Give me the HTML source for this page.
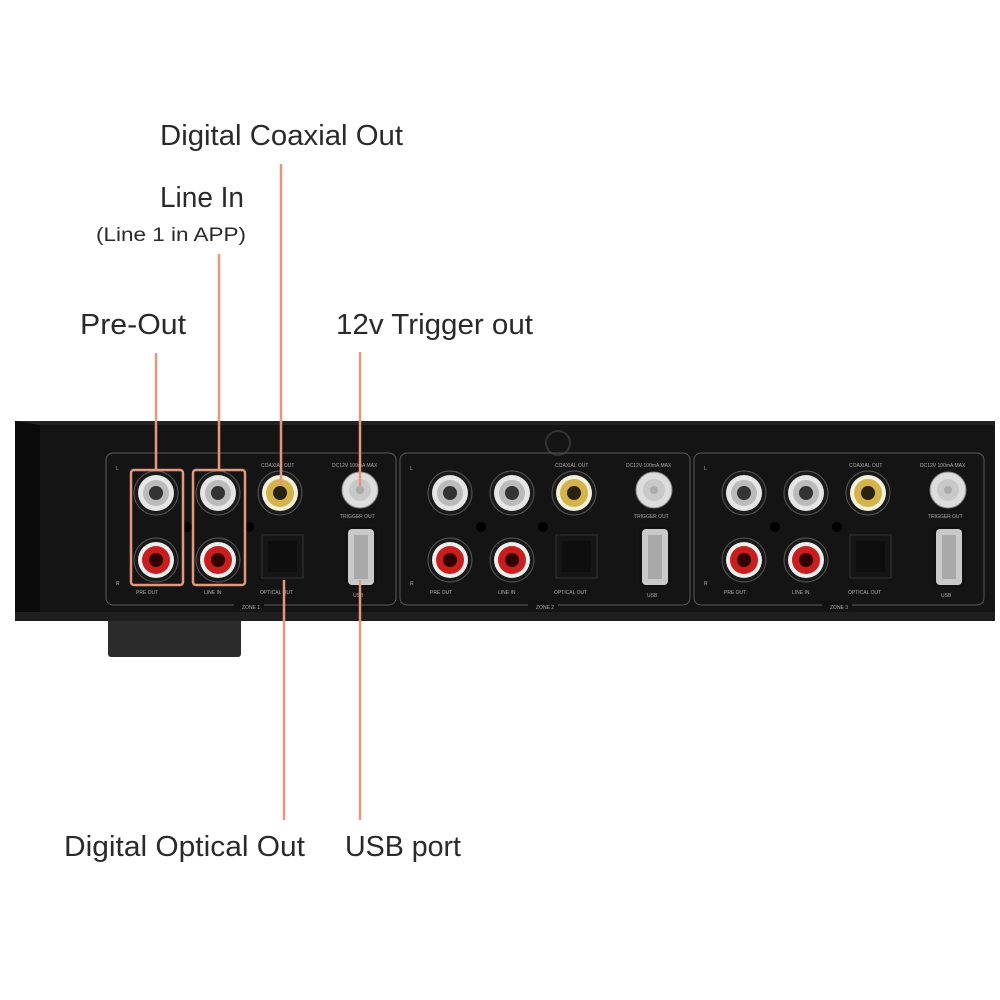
<!DOCTYPE html>
<html><head><meta charset="utf-8"><style>
html,body{margin:0;padding:0;background:#fff;}
svg{display:block}
text{font-family:"Liberation Sans",sans-serif;fill:#2a2a2a}
.s{font-size:5px;fill:#aaa}
</style></head><body>
<svg width="1000" height="1000" viewBox="0 0 1000 1000">
<defs>
<g id="zone">
  <rect x="0" y="0" width="290" height="152" rx="7" fill="none" stroke="#5a5a5a" stroke-width="1"/>
  <!-- white jacks -->
  <g transform="translate(50,40)"><circle r="22" fill="#1a1a1a" stroke="#555"/><circle r="18" fill="#e6e6e6"/><circle r="13" fill="#bbb"/><circle r="7" fill="#333"/></g>
  <g transform="translate(112,40)"><circle r="22" fill="#1a1a1a" stroke="#555"/><circle r="18" fill="#e6e6e6"/><circle r="13" fill="#bbb"/><circle r="7" fill="#333"/></g>
  <g transform="translate(174,40)"><circle r="22" fill="#1a1a1a" stroke="#555"/><circle r="18" fill="#f4f0dc"/><circle r="14" fill="#d4b44a"/><circle r="7" fill="#2a2210"/></g>
  <g transform="translate(254,37)"><circle r="18" fill="#ddd" stroke="#888"/><circle r="11" fill="#c8c8c8"/><circle r="4" fill="#aaa"/></g>
  <!-- red jacks -->
  <g transform="translate(50,107)"><circle r="22" fill="#1a1a1a" stroke="#555"/><circle r="18" fill="#eee"/><circle r="14" fill="#c81e1e"/><circle r="7" fill="#300"/></g>
  <g transform="translate(112,107)"><circle r="22" fill="#1a1a1a" stroke="#555"/><circle r="18" fill="#eee"/><circle r="14" fill="#c81e1e"/><circle r="7" fill="#300"/></g>
  <circle cx="81" cy="74" r="5" fill="#000"/><circle cx="143" cy="74" r="5" fill="#000"/>
  <!-- optical -->
  <rect x="156" y="82" width="41" height="43" fill="#151515" stroke="#333"/>
  <rect x="162" y="88" width="29" height="31" fill="#0e0e0e"/>
  <!-- usb -->
  <rect x="239" y="74" width="32" height="60" rx="3" fill="#111"/>
  <rect x="242" y="76" width="26" height="56" rx="4" fill="#c9c9c9"/>
  <rect x="248" y="82" width="14" height="44" fill="#a9a9a9"/>
  <text class="s" x="30" y="141">PRE OUT</text><text class="s" x="98" y="141">LINE IN</text>
  <text class="s" x="154" y="141">OPTICAL OUT</text><text class="s" x="247" y="144">USB</text>
  <text class="s" x="155" y="14">COAXIAL OUT</text><text class="s" x="226" y="14">DC12V 100mA MAX</text>
  <text class="s" x="234" y="65">TRIGGER OUT</text>
  <text class="s" x="10" y="17">L</text><text class="s" x="10" y="132">R</text>
  <rect x="128" y="148" width="30" height="8" fill="#121212"/>
</g>
</defs>
<!-- foot -->
<rect x="108" y="612" width="133" height="45" rx="3" fill="#2b2b2b"/>
<!-- chassis -->
<rect x="15" y="421" width="980" height="200" fill="#141414"/>
<polygon points="15,421 40,421 40,612 15,621" fill="#0a0a0a"/>
<polygon points="15,421 995,421 995,425 40,425" fill="#222"/>
<rect x="15" y="612" width="980" height="9" fill="#1e1e1e"/>
<circle cx="558" cy="443" r="12" fill="none" stroke="#333" stroke-width="2"/>
<use href="#zone" x="106" y="453"/>
<use href="#zone" x="400" y="453"/>
<use href="#zone" x="694" y="453"/>
<text class="s" x="242" y="609">ZONE 1</text>
<text class="s" x="536" y="609">ZONE 2</text>
<text class="s" x="830" y="609">ZONE 3</text>
<!-- connectors -->
<g stroke="#e4977a" stroke-width="2.5" fill="none">
  <line x1="156" y1="353" x2="156" y2="470"/>
  <line x1="219" y1="254" x2="219" y2="470"/>
  <line x1="281" y1="164" x2="281" y2="486"/>
  <line x1="360" y1="352" x2="360" y2="486"/>
  <line x1="284" y1="580" x2="284" y2="820"/>
  <line x1="360" y1="580" x2="360" y2="820"/>
  <rect x="131" y="470" width="52" height="115" rx="3"/>
  <rect x="193" y="470" width="52" height="115" rx="3"/>
</g>
<!-- labels -->
<text x="160" y="145" font-size="29" textLength="243" lengthAdjust="spacingAndGlyphs">Digital Coaxial Out</text>
<text x="160" y="207" font-size="29" textLength="84" lengthAdjust="spacingAndGlyphs">Line In</text>
<text x="96" y="241" font-size="19" textLength="150" lengthAdjust="spacingAndGlyphs">(Line 1 in APP)</text>
<text x="80" y="334" font-size="29" textLength="106" lengthAdjust="spacingAndGlyphs">Pre-Out</text>
<text x="336" y="334" font-size="29" textLength="197" lengthAdjust="spacingAndGlyphs">12v Trigger out</text>
<text x="64" y="856" font-size="29" textLength="241" lengthAdjust="spacingAndGlyphs">Digital Optical Out</text>
<text x="345" y="856" font-size="29" textLength="116" lengthAdjust="spacingAndGlyphs">USB port</text>
</svg>
</body></html>
